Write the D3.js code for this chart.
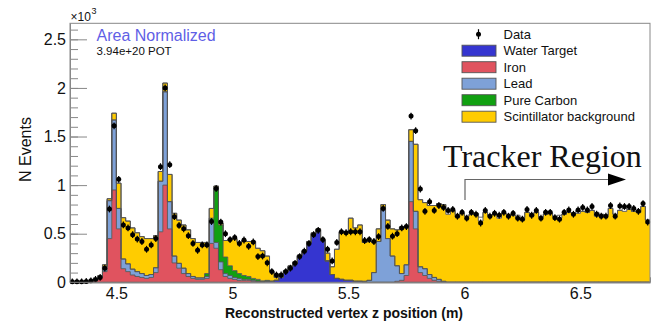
<!DOCTYPE html>
<html>
<head>
<meta charset="utf-8">
<script src="https://d3js.org/d3.v7.min.js"></script>
<style>
    body { margin: 0; background: #fff; }
    svg { display: block; font-family: "Liberation Sans", Arial, sans-serif; }
</style>
</head>
<body>
<svg id="chart" width="656" height="327"></svg>
<script>
// 125 bins of 0.02 m, from 4.3 m to 6.8 m. Values in units of 10^3 events.
const zStart = 4.3, binWidth = 0.02;

const dataVals = [
    0.005, 0.005, 0.005, 0.008, 0.015, 0.03, 0.05, 0.145, 0.754, 1.61,
    1.06, 0.59, 0.56, 0.49, 0.445, 0.42, 0.34, 0.385, 0.45, 1.19,
    2.0, 1.21, 0.675, 0.585, 0.55, 0.48, 0.40, 0.33, 0.385, 0.385,
    0.625, 0.965, 0.62, 0.50, 0.44, 0.46, 0.40, 0.435, 0.37, 0.415,
    0.265, 0.27, 0.20, 0.11, 0.075, 0.075, 0.11, 0.145, 0.195, 0.265,
    0.32, 0.40, 0.49, 0.535, 0.44, 0.34, 0.22, 0.41, 0.52, 0.51,
    0.52, 0.52, 0.52, 0.43, 0.44, 0.42, 0.47, 0.76, 0.575, 0.475,
    0.50, 0.56, 0.573, 1.71, 1.56, 0.96, 0.73, 0.83, 0.74, 0.79,
    0.77, 0.74, 0.75, 0.68, 0.72, 0.66, 0.72, 0.70, 0.61, 0.74,
    0.68, 0.71, 0.69, 0.72, 0.68, 0.71, 0.66, 0.65, 0.75, 0.69,
    0.74, 0.66, 0.72, 0.72, 0.665, 0.65, 0.72, 0.745, 0.70, 0.745,
    0.77, 0.745, 0.78, 0.70, 0.68, 0.68, 0.79, 0.68, 0.785, 0.78,
    0.78, 0.76, 0.73, 0.81, 0.62
];

const waterVals = [
    0, 0, 0, 0, 0, 0, 0, 0, 0, 0,
    0, 0, 0, 0, 0, 0, 0, 0, 0, 0,
    0, 0, 0, 0, 0, 0, 0, 0, 0, 0,
    0, 0, 0, 0, 0, 0, 0, 0, 0, 0,
    0, 0.005, 0.01, 0.01, 0.02, 0.05, 0.11, 0.16, 0.20, 0.27,
    0.32, 0.41, 0.50, 0.54, 0.43, 0.22, 0.08, 0.04, 0.03, 0.02,
    0.02, 0.01, 0.01, 0, 0, 0, 0, 0, 0, 0,
    0, 0, 0, 0, 0, 0, 0, 0, 0, 0,
    0, 0, 0, 0, 0, 0, 0, 0, 0, 0,
    0, 0, 0, 0, 0, 0, 0, 0, 0, 0,
    0, 0, 0, 0, 0, 0, 0, 0, 0, 0,
    0, 0, 0, 0, 0, 0, 0, 0, 0, 0,
    0, 0, 0, 0, 0
];

const ironVals = [
    0, 0, 0, 0, 0.01, 0.02, 0.05, 0.11, 0.45, 0.95,
    0.55, 0.14, 0.11, 0.075, 0.06, 0.05, 0.04, 0.05, 0.10, 0.52,
    1.00, 0.55, 0.20, 0.145, 0.09, 0.06, 0.04, 0.03, 0.03, 0.04,
    0.40, 0.35, 0.13, 0.06, 0.04, 0.03, 0.02, 0.02, 0.02, 0.01,
    0.01, 0, 0, 0, 0, 0, 0, 0, 0, 0,
    0, 0, 0, 0, 0, 0, 0, 0, 0, 0,
    0, 0, 0, 0, 0, 0, 0, 0, 0, 0,
    0.01, 0.02, 0.07, 0.83, 0.55, 0.10, 0.07, 0.04, 0.02, 0.01,
    0, 0, 0, 0, 0, 0, 0, 0, 0, 0,
    0, 0, 0, 0, 0, 0, 0, 0, 0, 0,
    0, 0, 0, 0, 0, 0, 0, 0, 0, 0,
    0, 0, 0, 0, 0, 0, 0, 0, 0, 0,
    0, 0, 0, 0, 0
];

const leadVals = [
    0, 0, 0, 0, 0, 0, 0.01, 0.05, 0.39, 0.72,
    0.21, 0.10, 0.08, 0.06, 0.05, 0.04, 0.03, 0.03, 0.05, 0.52,
    0.96, 0.28, 0.07, 0.05, 0.055, 0.03, 0.02, 0.015, 0.015, 0.02,
    0.24, 0.06, 0.08, 0.03, 0.03, 0.02, 0.02, 0.01, 0.01, 0.01,
    0, 0, 0, 0, 0, 0, 0, 0, 0, 0,
    0, 0, 0, 0, 0, 0, 0, 0, 0, 0,
    0, 0, 0, 0.01, 0.02, 0.10, 0.42, 0.76, 0.45, 0.27,
    0.16, 0.07, 0.11, 0.62, 0.18, 0.06, 0.07, 0.04, 0.03, 0.02,
    0.01, 0, 0, 0, 0, 0, 0, 0, 0, 0,
    0, 0, 0, 0, 0, 0, 0, 0, 0, 0,
    0, 0, 0, 0, 0, 0, 0, 0, 0, 0,
    0, 0, 0, 0, 0, 0, 0, 0, 0, 0,
    0, 0, 0, 0, 0
];

const carbonVals = [
    0, 0, 0, 0, 0, 0, 0, 0, 0, 0,
    0, 0, 0, 0, 0, 0, 0, 0, 0, 0,
    0, 0, 0, 0, 0, 0, 0, 0, 0, 0.03,
    0.02, 0.56, 0.38, 0.17, 0.10, 0.07, 0.05, 0.04, 0.03, 0.02,
    0.02, 0.01, 0.01, 0, 0, 0, 0, 0, 0, 0,
    0, 0, 0, 0, 0, 0, 0, 0, 0, 0,
    0, 0, 0, 0, 0, 0, 0, 0, 0, 0,
    0, 0, 0, 0, 0, 0, 0, 0, 0, 0,
    0, 0, 0, 0, 0, 0, 0, 0, 0, 0,
    0, 0, 0, 0, 0, 0, 0, 0, 0, 0,
    0, 0, 0, 0, 0, 0, 0, 0, 0, 0,
    0, 0, 0, 0, 0, 0, 0, 0, 0, 0,
    0, 0, 0, 0, 0
];

const scintVals = [
    0, 0, 0, 0, 0, 0.01, 0.01, 0.02, 0.02, 0.07,
    0.26, 0.425, 0.44, 0.425, 0.40, 0.38, 0.38, 0.37, 0.33, 0.10,
    0.09, 0.28, 0.44, 0.445, 0.445, 0.45, 0.39, 0.365, 0.365, 0.32,
    0.10, 0.02, 0.02, 0.17, 0.27, 0.33, 0.32, 0.36, 0.36, 0.38,
    0.32, 0.31, 0.25, 0.10, 0.03, 0.015, 0.01, 0.01, 0.01, 0.01,
    0.01, 0.01, 0.01, 0.01, 0.01, 0.08, 0.08, 0.30, 0.49, 0.49,
    0.64, 0.55, 0.58, 0.40, 0.40, 0.31, 0.13, 0.04, 0.19, 0.28,
    0.37, 0.48, 0.39, 0.12, 0.69, 0.69, 0.68, 0.71, 0.74, 0.78,
    0.79, 0.70, 0.74, 0.67, 0.71, 0.68, 0.70, 0.71, 0.63, 0.72,
    0.69, 0.70, 0.66, 0.71, 0.70, 0.69, 0.66, 0.64, 0.72, 0.68,
    0.72, 0.67, 0.70, 0.71, 0.68, 0.66, 0.70, 0.72, 0.71, 0.71,
    0.73, 0.72, 0.74, 0.68, 0.70, 0.69, 0.76, 0.70, 0.74, 0.73,
    0.75, 0.73, 0.72, 0.78, 0.64
];

// MC remainder not in the legend (drawn unfilled on top of the stack)
const otherVals = [
    0, 0, 0, 0, 0, 0, 0, 0, 0, 0,
    0, 0, 0, 0, 0, 0, 0, 0, 0, 0,
    0, 0, 0, 0, 0, 0, 0, 0, 0, 0,
    0, 0, 0, 0, 0, 0, 0, 0, 0, 0,
    0, 0, 0, 0, 0, 0, 0, 0, 0, 0,
    0, 0, 0, 0, 0, 0, 0, 0, 0, 0,
    0, 0, 0, 0, 0, 0, 0, 0, 0, 0,
    0, 0, 0, 0, 0, 0, 0, 0, 0, 0,
    0, 0.03, 0, 0.03, 0, 0, 0, 0, 0.04, 0,
    0, 0, 0.03, 0, 0, 0, 0.03, 0.03, 0, 0.03,
    0, 0, 0, 0, 0, 0.03, 0, 0, 0, 0.03,
    0, 0, 0, 0.04, 0, 0, 0, 0, 0, 0.03,
    0, 0, 0, 0, 0
];

const yTickVals = [0, 0.5, 1, 1.5, 2, 2.5];
const xTickVals = [4.5, 5, 5.5, 6, 6.5];

const legendItems = [
    { label: "Data", key: "data" },
    { label: "Water Target", key: "water" },
    { label: "Iron", key: "iron" },
    { label: "Lead", key: "lead" },
    { label: "Pure Carbon", key: "carbon" },
    { label: "Scintillator background", key: "scint" }
];

const colors = {
    water: "#3535d0",
    iron: "#e0535f",
    lead: "#7ea1d8",
    carbon: "#11a011",
    scint: "#ffcc00",
    other: "#ffffff"
};

/** LAYOUT **/
const frame = { left: 70, right: 650, top: 23.3, bottom: 282.3 };
const svg = d3.select("#chart");

let x = d3.scaleLinear().domain([4.3, 6.8]).range([frame.left, frame.right]),
    y = d3.scaleLinear().domain([0, 2.665]).range([frame.bottom, frame.top]);

/** STACK **/
let keys = ["water", "iron", "lead", "carbon", "scint", "other"];
let rows = dataVals.map((d, i) => ({
    lo: zStart + i * binWidth,
    hi: zStart + (i + 1) * binWidth,
    water: waterVals[i],
    iron: ironVals[i],
    lead: leadVals[i],
    carbon: carbonVals[i],
    scint: scintVals[i],
    other: otherVals[i]
}));
let layers = d3.stack().keys(keys)(rows);

// step outline: each bin gives two points (left and right edge)
function stepPoints(layer) {
    let pts = [];
    layer.forEach((s, i) => {
        pts.push({ z: rows[i].lo, y0: s[0], y1: s[1] });
        pts.push({ z: rows[i].hi, y0: s[0], y1: s[1] });
    });
    return pts;
}

let stepArea = d3.area()
    .x(p => x(p.z))
    .y0(p => y(p.y0))
    .y1(p => y(p.y1));

let stepLine = d3.line()
    .x(p => x(p.z))
    .y(p => y(p.y1));

/** AXES (under the histograms, like ROOT) **/
let yMinor = d3.axisLeft(y).tickValues(d3.range(0, 2.66, 0.1)).tickSize(-8).tickFormat("").tickSizeOuter(0);
let yMajor = d3.axisLeft(y).tickValues(yTickVals).tickSize(-17).tickPadding(4).tickSizeOuter(0)
    .tickFormat(d3.format("~g"));
let xMinor = d3.axisBottom(x).tickValues(d3.range(4.3, 6.81, 0.1)).tickSize(-5).tickFormat("").tickSizeOuter(0);
let xMajor = d3.axisBottom(x).tickValues(xTickVals).tickSize(-9).tickPadding(5).tickSizeOuter(0)
    .tickFormat(d3.format("~g"));

let gAxes = svg.append("g").attr("class", "axes");
gAxes.append("g").attr("transform", `translate(${frame.left},0)`).call(yMinor);
gAxes.append("g").attr("transform", `translate(${frame.left},0)`).call(yMajor);
gAxes.append("g").attr("transform", `translate(0,${frame.bottom})`).call(xMinor);
gAxes.append("g").attr("transform", `translate(0,${frame.bottom})`).call(xMajor);
gAxes.selectAll(".domain").attr("stroke", "#888");
gAxes.selectAll(".tick line").attr("stroke", "#888");
gAxes.selectAll(".tick text")
    .attr("fill", "#111")
    .style("font-size", "16px")
    .style("font-family", "'Liberation Sans', Arial, sans-serif");

/** HISTOGRAMS **/
let gHist = svg.append("g").attr("class", "stack");
layers.forEach(layer => {
    gHist.append("path")
        .datum(stepPoints(layer))
        .attr("fill", colors[layer.key])
        .attr("d", stepArea);
});
layers.forEach(layer => {
    gHist.append("path")
        .datum(stepPoints(layer))
        .attr("fill", "none")
        .attr("stroke", "#555")
        .attr("stroke-width", 0.9)
        .attr("d", stepLine);
});

/** DATA POINTS **/
const errHalf = 0.035;
let gData = svg.append("g").attr("class", "data");
rows.forEach((r, i) => {
    let cx = x((r.lo + r.hi) / 2), cy = y(dataVals[i]);
    gData.append("line")
        .attr("x1", cx).attr("x2", cx)
        .attr("y1", y(dataVals[i] + errHalf)).attr("y2", y(Math.max(0, dataVals[i] - errHalf)))
        .attr("stroke", "#000").attr("stroke-width", 1.2);
    gData.append("line")
        .attr("x1", x(r.lo) + 0.6).attr("x2", x(r.hi) - 0.6)
        .attr("y1", cy).attr("y2", cy)
        .attr("stroke", "#000").attr("stroke-width", 1.2);
    gData.append("circle")
        .attr("cx", cx).attr("cy", cy).attr("r", 2.5)
        .attr("fill", "#000");
});

/** FRAME **/
svg.append("rect")
    .attr("x", frame.left).attr("y", frame.top)
    .attr("width", frame.right - frame.left).attr("height", frame.bottom - frame.top)
    .attr("fill", "none").attr("stroke", "#888").attr("stroke-width", 1);

/** TEXTS **/
svg.append("text")
    .attr("x", 70.5).attr("y", 21)
    .style("font-size", "12px").attr("fill", "#111")
    .text("\u00d710");
svg.append("text")
    .attr("x", 91.5).attr("y", 14)
    .style("font-size", "9px").attr("fill", "#111")
    .text("3");

svg.append("text")
    .attr("transform", "translate(31,149.5) rotate(-90)")
    .attr("text-anchor", "middle")
    .style("font-size", "16px").attr("fill", "#111")
    .text("N Events");

svg.append("text")
    .attr("x", 344).attr("y", 318)
    .attr("text-anchor", "middle")
    .style("font-size", "14px").style("font-weight", "bold").attr("fill", "#111")
    .text("Reconstructed vertex z position (m)");

svg.append("text")
    .attr("x", 96.5).attr("y", 40.5)
    .style("font-size", "16px").attr("fill", "#5f5fe6")
    .text("Area Normalized");

svg.append("text")
    .attr("x", 96.5).attr("y", 54.5)
    .style("font-size", "11.5px").attr("fill", "#111")
    .text("3.94e+20 POT");

svg.append("text")
    .attr("x", 443).attr("y", 167)
    .style("font-family", "'Liberation Serif', 'Times New Roman', serif")
    .style("font-size", "32px").attr("fill", "#111")
    .text("Tracker Region");

// arrow
svg.append("path")
    .attr("d", `M465,200 L465,179.5 L610,179.5`)
    .attr("fill", "none").attr("stroke", "#666").attr("stroke-width", 1.2);
svg.append("path")
    .attr("d", "M608,173.5 L626,179.5 L608,185.5 Z")
    .attr("fill", "#000");

/** LEGEND **/
let gLegend = svg.append("g").attr("class", "legend");
legendItems.forEach((item, i) => {
    let cy = 34.2 + i * 16.5;
    if (item.key === "data") {
        gLegend.append("line")
            .attr("x1", 478.5).attr("x2", 478.5).attr("y1", cy - 5).attr("y2", cy + 5)
            .attr("stroke", "#000").attr("stroke-width", 1.2);
        gLegend.append("circle")
            .attr("cx", 478.5).attr("cy", cy).attr("r", 2.5).attr("fill", "#000");
    } else {
        gLegend.append("rect")
            .attr("x", 462).attr("y", cy - 5.5)
            .attr("width", 34).attr("height", 11)
            .attr("fill", colors[item.key]).attr("stroke", "#555").attr("stroke-width", 0.9);
    }
    gLegend.append("text")
        .attr("x", 503.5).attr("y", cy + 4.5)
        .style("font-size", "13px").attr("fill", "#111")
        .text(item.label);
});
</script>
</body>
</html>
